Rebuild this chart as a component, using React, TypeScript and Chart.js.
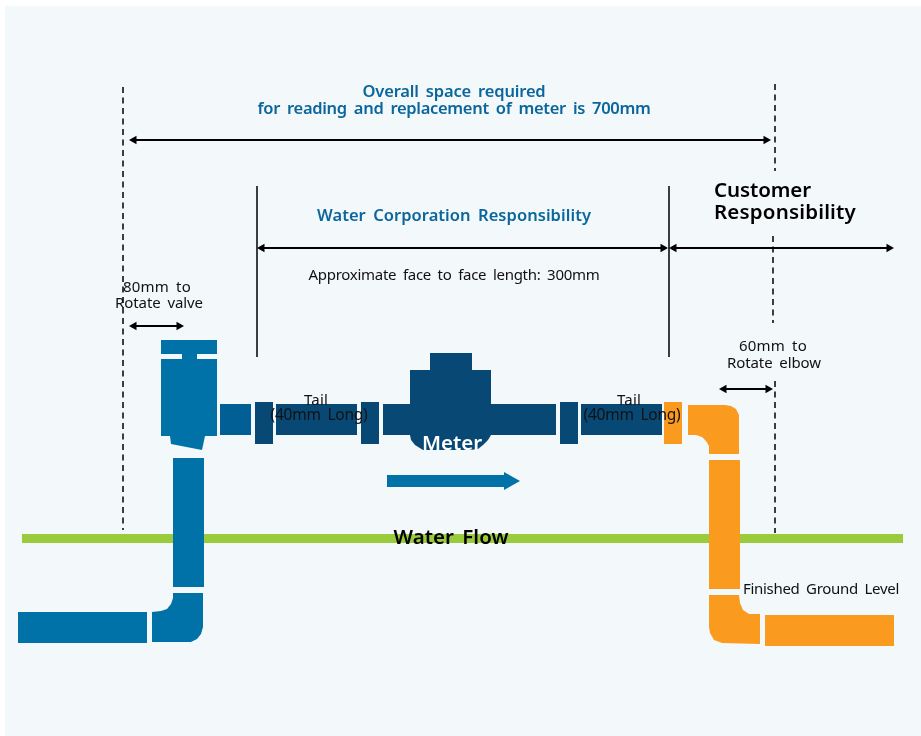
import React, { useEffect, useRef } from "react";
import { Chart, registerables } from "chart.js";

Chart.register(...registerables);

type P = [number, number];
const BLUE = "#0172a8";
const STEEL = "#015f96";
const NAVY = "#074874";
const ORANGE = "#fa9a1f";
const GREEN = "#9acb3c";
const PANEL = "#f3f8fb";
const TEAL = "#0b669c";

const rect = (a: number, b: number, c: number, d: number): P[] => [[a, b], [c, b], [c, d], [a, d], [a, b]];

const panel = rect(5, 6, 921, 736);
const ground = rect(22, 534, 903, 543);

const blueShapes: P[][] = [
  rect(161, 340, 217, 354),
  rect(182, 354, 197, 359),
  rect(161, 359, 217, 436),
  [[170, 436], [171, 444], [202, 450], [205, 436], [170, 436]],
  rect(173, 458, 204, 587),
  [[173, 593], [203, 593], [203, 627], [201, 634], [197, 639], [191, 642], [152, 642], [152, 612], [161, 611], [167, 609], [171, 604], [173, 598], [173, 593]],
  rect(18, 612, 147, 643),
  [[387, 475], [504, 475], [504, 472], [520, 481], [504, 490], [504, 487], [387, 487], [387, 475]],
];
const steelShapes: P[][] = [rect(220, 404, 251, 435)];
const navyShapes: P[][] = [
  rect(255, 402, 273, 444),
  rect(276, 404, 357, 435),
  rect(361, 402, 379, 444),
  rect(383, 404, 556, 435),
  rect(430, 353, 472, 370),
  [[410, 370], [491, 370], [491, 435], [488, 440], [483, 445], [478, 449], [470, 450], [430, 450], [423, 450], [415, 445], [411, 440], [410, 435], [410, 370]],
  rect(560, 402, 578, 444),
  rect(581, 404, 662, 435),
];
const orangeShapes: P[][] = [
  rect(664, 402, 682, 444),
  [[688, 405], [725, 405], [731, 406], [736, 409], [739, 415], [739, 454], [709, 454], [709, 446], [706, 441], [702, 437], [696, 435], [688, 435], [688, 405]],
  rect(709, 460, 740, 589),
  [[709, 595], [739, 595], [740, 603], [743, 610], [749, 614], [760, 614], [760, 644], [722, 643], [714, 640], [710, 633], [709, 627], [709, 595]],
  rect(765, 615, 894, 646),
];

const dashedLines: P[][] = [
  [[123, 87], [123, 530]],
  [[775, 84], [775, 171]],
  [[773, 236], [773, 323]],
  [[775, 381], [775, 533]],
];
const solidLines: P[][] = [
  [[257, 186], [257, 357]],
  [[669, 186], [669, 357]],
];
const arrows: P[][] = [
  [[134, 140], [766, 140]],
  [[262, 248], [663, 248]],
  [[674, 248], [889, 248]],
  [[134, 326], [179, 326]],
  [[724, 389], [768, 389]],
];

const labelTexts = [
  "Overall space required",
  "for reading and replacement of meter is 700mm",
  "Water Corporation Responsibility",
  "Approximate face to face length: 300mm",
  "Customer",
  "Responsibility",
  "80mm to",
  "Rotate valve",
  "60mm to",
  "Rotate elbow",
  "Tail",
  "(40mm Long)",
  "Tail",
  "(40mm Long)",
  "Meter",
  "Water Flow",
  "Finished Ground Level",
];
const labelX = [454, 454, 454, 454, 714, 714, 157, 159, 773, 774, 316, 319, 629, 632, 452, 451, 821];
const labelY = [92, 109, 216, 276, 191, 213, 288, 304, 347, 364, 401, 416, 401, 416, 444, 538, 590];
const labelW = [183, 393, 274, 291, 97, 142, 68, 88, 68, 94, 24, 97, 24, 97, 60, 115, 156];
const labelSize = [16.5, 16.5, 16.5, 15, 20.5, 20.5, 15, 15, 15, 15, 15, 15.5, 15, 15.5, 20.5, 20.5, 15];
const labelWeight = [600, 600, 600, 400, 600, 600, 400, 400, 400, 400, 400, 400, 400, 400, 600, 600, 400];
const labelColor = [TEAL, TEAL, TEAL, "#111", "#000", "#000", "#111", "#111", "#111", "#111", "#111", "#111", "#111", "#111", "#fff", "#000", "#111"];
const labelAlign = ["center", "center", "center", "center", "left", "left", "center", "center", "center", "center", "center", "center", "center", "center", "center", "center", "center"];

const toXY = (s: P[]) => s.map(([x, y]) => ({ x, y }));
const polygon = (s: P[], color: string) => ({
  data: toXY(s),
  borderWidth: 0,
  borderColor: color,
  backgroundColor: color,
  fill: "shape",
  pointRadius: 0,
  tension: 0,
});
const line = (s: P[], dash: number[], width: number) => ({
  data: toXY(s),
  borderWidth: width,
  borderColor: "#000",
  borderDash: dash,
  fill: false,
  pointRadius: 0,
  tension: 0,
});
const arrow = (s: P[]) => ({
  data: toXY(s),
  borderWidth: 2,
  borderColor: "#000",
  backgroundColor: "#000",
  fill: false,
  pointStyle: "triangle",
  pointRadius: 5,
  pointBorderWidth: 0,
  pointRotation: [-90, 90],
  tension: 0,
});

const labelPlugin = {
  id: "diagramLabels",
  afterDatasetsDraw(chart: any) {
    const { ctx, scales } = chart;
    ctx.save();
    ctx.textBaseline = "middle";
    labelTexts.forEach((t, i) => {
      ctx.font = `${labelWeight[i]} ${labelSize[i]}px "Noto Sans"`;
      ctx.fillStyle = labelColor[i];
      ctx.textAlign = labelAlign[i];
      ctx.letterSpacing = "0px";
      ctx.wordSpacing = "3px";
      const extra = (labelW[i] - ctx.measureText(t).width) / t.length;
      ctx.letterSpacing = `${extra}px`;
      ctx.fillText(t, scales.x.getPixelForValue(labelX[i]), scales.y.getPixelForValue(labelY[i]));
    });
    ctx.restore();
  },
};

export default function App() {
  const ref = useRef<HTMLCanvasElement>(null);
  useEffect(() => {
    document.body.style.margin = "0";
    document.body.style.background = "#fff";
    const chart = new Chart(ref.current!, {
      type: "scatter",
      data: {
        datasets: [
          polygon(panel, PANEL),
          polygon(ground, GREEN),
          ...dashedLines.map((s) => line(s, [6, 4.5], 1.5)),
          ...solidLines.map((s) => line(s, [], 1.5)),
          ...blueShapes.map((s) => polygon(s, BLUE)),
          ...steelShapes.map((s) => polygon(s, STEEL)),
          ...navyShapes.map((s) => polygon(s, NAVY)),
          ...orangeShapes.map((s) => polygon(s, ORANGE)),
          ...arrows.map(arrow),
        ].map((d) => ({ ...d, showLine: true })).reverse() as any,
      },
      options: {
        animation: false,
        responsive: false,
        devicePixelRatio: 1,
        layout: { padding: 0, autoPadding: false },
        scales: {
          x: { type: "linear", min: 0, max: 921, display: false },
          y: { type: "linear", min: 0, max: 736, reverse: true, display: false },
        },
        plugins: { legend: { display: false }, tooltip: { enabled: false }, title: { display: false } },
      },
      plugins: [labelPlugin],
    });
    return () => chart.destroy();
  }, []);
  return <canvas ref={ref} width={921} height={736} style={{ display: "block" }} />;
}
